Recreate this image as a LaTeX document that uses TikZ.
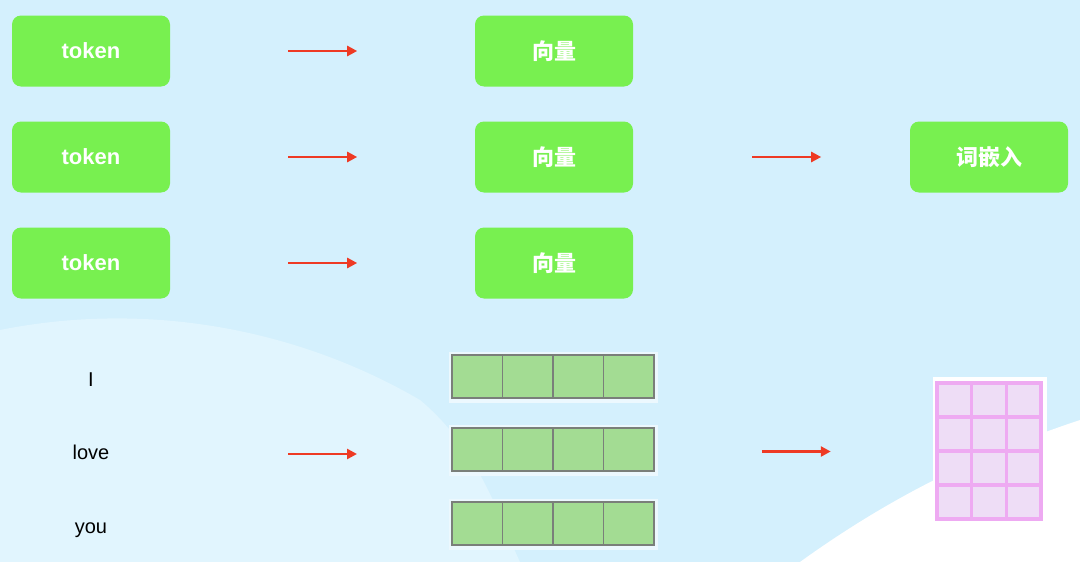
\documentclass[tikz,border=0pt]{standalone}
\usepackage{fontspec}
\setmainfont{Liberation Sans}
\newfontfamily\cjk{Noto Sans CJK SC}
\usepackage{tikz}
\usetikzlibrary{calc,positioning,arrows.meta}

\definecolor{bgblue}{HTML}{D4F0FD}
\definecolor{boxgreen}{HTML}{78F050}
\definecolor{cellgreen}{HTML}{A3DC93}
\definecolor{cellline}{HTML}{7A7F7A}
\definecolor{arrowred}{HTML}{EE3A24}
\definecolor{gridpink}{HTML}{EEAAF2}
\definecolor{cellpink}{HTML}{EEDDF6}

\begin{document}
\begin{tikzpicture}[x=1pt,y=1pt]

    \tikzstyle{gbox} = [fill=boxgreen, rounded corners=9pt, minimum width=158pt,
        minimum height=71pt, text=white, font=\fontsize{22}{24}\selectfont\bfseries, inner sep=0pt]

    \tikzstyle{cbox} = [gbox, font=\fontsize{22}{24}\selectfont\cjk\bfseries]

    \tikzstyle{word} = [font=\fontsize{20}{22}\selectfont, text=black, inner sep=0pt,
        text height=14pt, text depth=4pt]

    \tikzstyle{vcell} = [draw=cellline, line width=1.5pt, fill=cellgreen,
        minimum width=50.5pt, minimum height=43pt, inner sep=0pt]

    \tikzstyle{mcell} = [draw=gridpink, line width=3.5pt, fill=cellpink,
        minimum width=34.7pt, minimum height=34pt, inner sep=0pt]

    \tikzstyle{redarrow} = [draw=arrowred, line width=2.5pt, -{Triangle[length=10pt,width=10pt]}]

    % Background
    \fill[bgblue] (0,0) rectangle (1080,-562);
    \fill[white!30!bgblue] (0,-330) .. controls (150,-300) and (300,-330) .. (420,-400)
        .. controls (480,-450) and (500,-520) .. (520,-562) -- (0,-562) -- cycle;
    \fill[white] (800,-562) .. controls (900,-490) and (990,-450) .. (1080,-420)
        -- (1080,-562) -- cycle;
    \useasboundingbox (0,0) rectangle (1080,-562);

    % Tokens
    \node [gbox] (tok1) at (91,-51) {token};
    \node [gbox, below of=tok1, node distance=106pt] (tok2) {token};
    \node [gbox, below of=tok2, node distance=106pt] (tok3) {token};

    % Vectors
    \node [cbox, right of=tok1, node distance=463pt] (vec1) {向量};
    \node [cbox, right of=tok2, node distance=463pt] (vec2) {向量};
    \node [cbox, right of=tok3, node distance=463pt] (vec3) {向量};

    % Embedding
    \node [cbox, right of=vec2, node distance=435pt] (emb) {词嵌入};

    % Arrows
    \foreach \i in {1,2,3} {
        \coordinate (ta\i) at ($(tok\i.east)+(118,0)$);
        \coordinate (tb\i) at ($(tok\i.east)+(187,0)$);
        \draw[redarrow] (ta\i) -- (tb\i);
    }
    \coordinate (va) at ($(vec2.east)+(119,0)$);
    \coordinate (vb) at ($(vec2.east)+(188,0)$);
    \draw[redarrow] (va) -- (vb);

    % Words
    \node [word] (w1) at (91,-381) {I};
    \node [word, below of=w1, node distance=73pt] (w2) {love};
    \node [word, below of=w2, node distance=74pt] (w3) {you};

    % Word vectors
    \foreach \r/\y in {1/-376.5,2/-449.5,3/-523.5} {
        \fill[white!55!bgblue] (449,\y+25) rectangle (658,\y-26);
        \foreach \c in {1,...,4}
            \node [vcell] (r\r c\c) at (452+50.5*\c-25.25,\y) {};
    }

    \coordinate (wa) at ($(w2)+(197,0)$);
    \coordinate (wb) at ($(w2)+(266,0)$);
    \draw[redarrow] (wa) -- (wb);
    \coordinate (xa) at ($(r2c4.east)+(107,-2)$);
    \coordinate (xb) at ($(r2c4.east)+(176,-2)$);
    \draw[redarrow] (xa) -- (xb);

    % Embedding matrix
    \fill[white] (933,-377) rectangle (1047,-523);
    \foreach \r in {1,...,4}
        \foreach \c in {1,...,3}
            \node [mcell] (m\r\c) at (937+34.7*\c-17.35,-383-34*\r+17) {};

\end{tikzpicture}
\end{document}
